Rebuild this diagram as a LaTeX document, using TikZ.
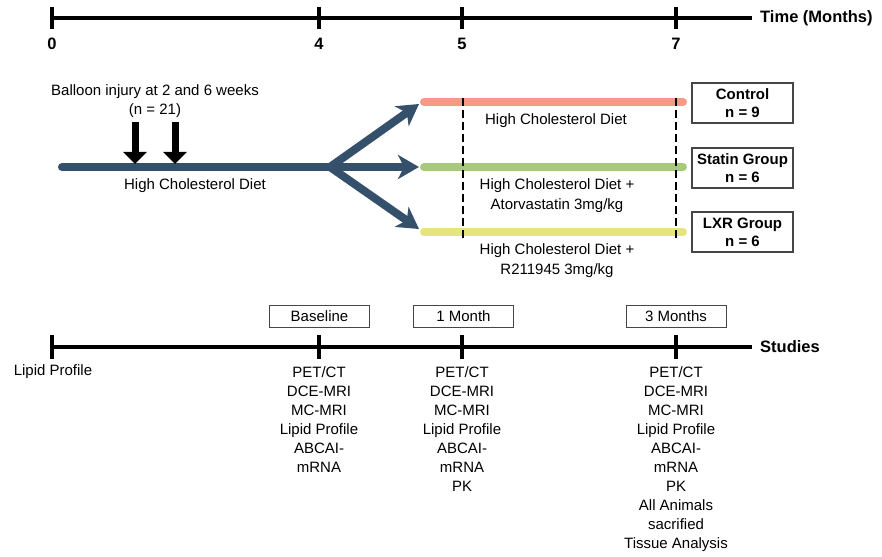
\documentclass[tikz,border=0pt]{standalone}
\usepackage{fontspec}
\setmainfont{Liberation Sans}
\usetikzlibrary{arrows.meta}
\definecolor{navy}{RGB}{52,80,107}
\definecolor{salmon}{RGB}{243,155,135}
\definecolor{leaf}{RGB}{169,201,122}
\definecolor{lemon}{RGB}{230,228,127}
\definecolor{boxgray}{RGB}{70,70,70}
\begin{document}
\begin{tikzpicture}[x=1pt,y=-1pt,
  axisline/.style={line width=4pt},
  tickmark/.style={line width=3.5pt},
  txt/.style={font=\fontsize{15}{19}\selectfont, inner sep=0pt, align=center},
  axlabel/.style={font=\fontsize{16.5}{20}\selectfont\bfseries, inner sep=0pt},
  grpbox/.style={draw=boxgray, line width=1.3pt, minimum width=101pt, minimum height=40pt, inner sep=0pt, align=center, font=\fontsize{15}{18}\selectfont\bfseries},
  studybox/.style={draw=boxgray, line width=1pt, minimum width=100pt, minimum height=22pt, inner sep=0pt, font=\fontsize{15}{18}\selectfont},
  fat/.style={navy, line width=8pt, line cap=round},
  fatarrow/.style={navy, line width=8pt, line cap=round, -{Stealth[length=21pt,width=24pt,inset=6pt]}},
  bar/.style={line width=8pt, line cap=round},
  dashline/.style={line width=1.8pt, dash pattern=on 8pt off 4pt},
  injury/.style={line width=7pt, -{Triangle[length=12pt,width=23pt]}}
]
\useasboundingbox (0,0) rectangle (882,556);

% ---------- top time axis ----------
\coordinate (ta) at (52,18);
\coordinate (tb) at (752,18);
\draw[axisline] (ta) -- (tb);
\foreach \x in {52,319,462,676} \draw[tickmark] (\x,7) -- (\x,29);
\node[axlabel, anchor=west] (timelab) at (760,18) {Time (Months)};
\node[axlabel] (m0) at (52,44) {0};
\node[axlabel] (m4) at (319,44) {4};
\node[axlabel] (m5) at (462,44) {5};
\node[axlabel] (m7) at (676,44) {7};

% ---------- main diet line ----------
\coordinate (start) at (62,167);
\coordinate (br) at (330,167);
\coordinate (up) at (419,104);
\coordinate (mid) at (419,167);
\coordinate (low) at (419,229);
\draw[fat] (start) -- (br);
\draw[fatarrow] (br) -- (up);
\draw[fatarrow] (br) -- (mid);
\draw[fatarrow] (br) -- (low);

% balloon injury arrows
\node[txt] (balloon) at (155,101) {Balloon injury at 2 and 6 weeks\\(n = 21)};
\coordinate (i1a) at (135,122); \coordinate (i1b) at (135,164);
\coordinate (i2a) at (175,122); \coordinate (i2b) at (175,164);
\draw[injury] (i1a) -- (i1b);
\draw[injury] (i2a) -- (i2b);
\node[txt] (hcd) at (195,186) {High Cholesterol Diet};

% ---------- group bars ----------
\coordinate (s1) at (424,102); \coordinate (e1) at (683,102);
\coordinate (s2) at (424,167); \coordinate (e2) at (683,167);
\coordinate (s3) at (424,232); \coordinate (e3) at (683,232);
\draw[bar, salmon] (s1) -- (e1);
\draw[bar, leaf] (s2) -- (e2);
\draw[bar, lemon] (s3) -- (e3);
\coordinate (d1a) at (463,98); \coordinate (d1b) at (463,238);
\coordinate (d2a) at (676,98); \coordinate (d2b) at (676,238);
\draw[dashline] (d1a) -- (d1b);
\draw[dashline] (d2a) -- (d2b);

\node[txt] (g1t) at (556,121) {High Cholesterol Diet};
\node[txt, font=\fontsize{15}{20}\selectfont] (g2t) at (557,196) {High Cholesterol Diet +\\Atorvastatin 3mg/kg};
\node[txt, font=\fontsize{15}{20}\selectfont] (g3t) at (557,261) {High Cholesterol Diet +\\R211945 3mg/kg};

\node[grpbox] (control) at (742.5,103) {Control\\n = 9};
\node[grpbox] (statin) at (742.5,168) {Statin Group\\n = 6};
\node[grpbox] (lxr) at (742.5,232) {LXR Group\\n = 6};

% ---------- bottom studies axis ----------
\coordinate (sa) at (52,347);
\coordinate (sb) at (752,347);
\draw[axisline] (sa) -- (sb);
\foreach \x in {52,319,462,676} \draw[tickmark] (\x,335) -- (\x,359);
\node[axlabel, anchor=west] (studies) at (760,347) {Studies};

\node[studybox] (baseline) at (319.5,316) {Baseline};
\node[studybox] (onemonth) at (463.5,316) {1 Month};
\node[studybox] (threemonth) at (676,316) {3 Months};

\node[txt] (lp0) at (53,372) {Lipid Profile};
\node[txt, anchor=north] (l1) at (319,366) {PET/CT\\DCE-MRI\\MC-MRI\\Lipid Profile\\ABCAI-\\mRNA};
\node[txt, anchor=north] (l2) at (462,366) {PET/CT\\DCE-MRI\\MC-MRI\\Lipid Profile\\ABCAI-\\mRNA\\PK};
\node[txt, anchor=north] (l3) at (676,366) {PET/CT\\DCE-MRI\\MC-MRI\\Lipid Profile\\ABCAI-\\mRNA\\PK\\All Animals\\sacrified\\Tissue Analysis};
\end{tikzpicture}
\end{document}
